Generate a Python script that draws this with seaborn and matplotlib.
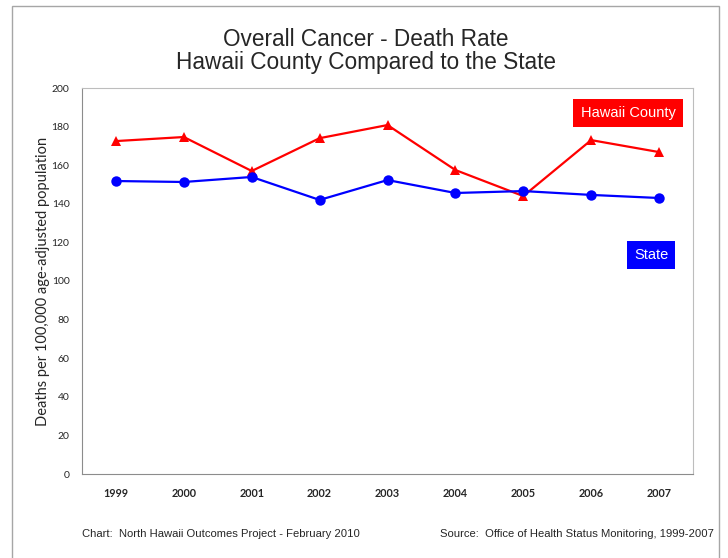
import pandas as pd
import seaborn as sns
import matplotlib.pyplot as plt
from matplotlib.patches import Rectangle

years = ["1999", "2000", "2001", "2002", "2003", "2004", "2005", "2006", "2007"]
hawaii_county = [172.5, 174.6, 157.0, 174.0, 180.8, 157.5, 144.0, 173.0, 166.8]
state = [151.8, 151.3, 153.9, 142.0, 152.3, 145.6, 146.6, 144.6, 143.0]
y_ticks = [0, 20, 40, 60, 80, 100, 120, 140, 160, 180, 200]

df = pd.DataFrame(
    {
        "year": years * 2,
        "rate": hawaii_county + state,
        "area": ["Hawaii County"] * len(years) + ["State"] * len(years),
    }
)

sns.set_style("white")
plt.rcParams["font.family"] = ["Liberation Sans", "DejaVu Sans"]

fig = plt.figure(figsize=(7.28, 5.58), dpi=100)
ax = fig.add_axes([82 / 728, 1 - 474 / 558, 611 / 728, 386 / 558])

sns.lineplot(
    data=df,
    x="year",
    y="rate",
    hue="area",
    style="area",
    palette={"Hawaii County": "#ff0000", "State": "#0000ff"},
    markers={"Hawaii County": "^", "State": "o"},
    dashes=False,
    markersize=7.5,
    markeredgewidth=0,
    linewidth=1.6,
    sort=False,
    legend=False,
    ax=ax,
)

ax.set_xlim(-0.5, len(years) - 0.5)
ax.set_ylim(0, 200)
ax.set_yticks(y_ticks)
ax.set_yticklabels([str(t) for t in y_ticks], fontsize=7.5, family="Lato")
ax.set_xticks(range(len(years)))
ax.set_xticklabels(years, fontsize=7.8, family="Lato", fontweight="bold")
ax.tick_params(axis="both", length=0)
ax.tick_params(axis="x", pad=10)
ax.tick_params(axis="y", pad=9)
ax.set_xlabel("")
ax.set_ylabel("Deaths per 100,000 age-adjusted population", fontsize=10.5, family="Lato", labelpad=1)
for s in ax.spines.values():
    s.set_color("#8c8c8c")
    s.set_linewidth(0.8)
ax.spines["top"].set_color("#bdbdbd")
ax.spines["right"].set_color("#bdbdbd")

# labels in place of a legend
ax.text(
    628 / 728, 1 - 113 / 558, "Hawaii County", transform=fig.transFigure,
    ha="center", va="center", color="white", fontsize=10.5,
    bbox=dict(boxstyle="square,pad=0.5", facecolor="#ff0000", edgecolor="none"),
)
ax.text(
    651 / 728, 1 - 255 / 558, "State", transform=fig.transFigure,
    ha="center", va="center", color="white", fontsize=10.5,
    bbox=dict(boxstyle="square,pad=0.5", facecolor="#0000ff", edgecolor="none"),
)

fig.text(366 / 728, 1 - 40 / 558, "Overall Cancer - Death Rate", ha="center", va="center", fontsize=16.3)
fig.text(366 / 728, 1 - 63 / 558, "Hawaii County Compared to the State", ha="center", va="center", fontsize=16.3)

fig.text(82 / 728, 1 - 534 / 558, "Chart:  North Hawaii Outcomes Project - February 2010", ha="left", va="center", fontsize=8.1)
fig.text(714 / 728, 1 - 534 / 558, "Source:  Office of Health Status Monitoring, 1999-2007", ha="right", va="center", fontsize=8.1)

# outer chart frame
fig.patches.append(
    Rectangle((12 / 728, -0.05), 707 / 728, 1.05 - 6 / 558, transform=fig.transFigure,
              fill=False, edgecolor="#a6a6a6", linewidth=1.0)
)

fig.savefig("out.png", dpi=100)
